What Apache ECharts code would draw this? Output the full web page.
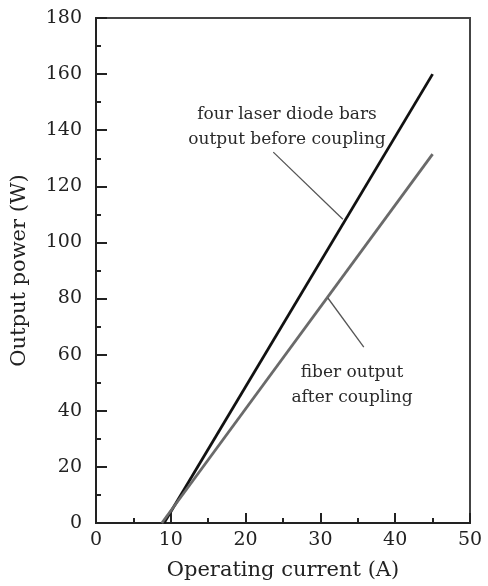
<!DOCTYPE html>
<html>
<head>
<meta charset="utf-8">
<script src="https://cdn.jsdelivr.net/npm/echarts@6/dist/echarts.min.js"></script>
<style>
  html, body { margin: 0; padding: 0; background: #fff; }
  #chart { width: 488px; height: 586px; }
</style>
</head>
<body>
<div id="chart"></div>
<script>
// four laser diode bars, output before coupling
const currentBefore = [9.1, 45];
const powerBefore = [0, 160];
// fiber output after coupling
const currentAfter = [8.8, 45];
const powerAfter = [0, 131.5];

// leader lines from the labels to the curves (current, power)
const leaderBefore = [[23.7, 132.2], [33.0, 108.3]];
const leaderAfter = [[35.8, 62.7], [31.0, 80.2]];

const labelBefore = ['four laser diode bars', 'output before coupling'];
const labelAfter = ['fiber output', 'after coupling'];

const FONT = '"DejaVu Serif", "Liberation Serif", serif';

const chart = echarts.init(document.getElementById('chart'));

function pairs(xs, ys) {
    return xs.map((x, i) => [x, ys[i]]);
}

const options = {
    animation: false,
    grid: {
        left: 96,
        right: 18,
        top: 18,
        bottom: 63,
        show: true,
        borderColor: '#444',
        borderWidth: 2,
    },
    xAxis: {
        type: 'value',
        min: 0,
        max: 50,
        interval: 10,
        name: 'Operating current (A)',
        nameLocation: 'middle',
        nameGap: 37,
        nameTextStyle: { fontFamily: FONT, fontSize: 21, color: '#222' },
        axisLine: { lineStyle: { color: '#222', width: 2 } },
        axisTick: { inside: true, length: 10, lineStyle: { color: '#222', width: 2 } },
        minorTick: { show: true, splitNumber: 2, length: 5, lineStyle: { color: '#222', width: 2 } },
        axisLabel: { fontFamily: FONT, fontSize: 19, color: '#222', margin: 8 },
        splitLine: { show: false },
    },
    yAxis: {
        type: 'value',
        min: 0,
        max: 180,
        interval: 20,
        name: 'Output power (W)',
        nameLocation: 'middle',
        nameGap: 66,
        nameTextStyle: { fontFamily: FONT, fontSize: 21, color: '#222' },
        axisLine: { lineStyle: { color: '#222', width: 2 } },
        axisTick: { inside: true, length: 11, lineStyle: { color: '#222', width: 2 } },
        minorTick: { show: true, splitNumber: 2, length: 5, lineStyle: { color: '#222', width: 2 } },
        axisLabel: { fontFamily: FONT, fontSize: 19, color: '#222', margin: 14 },
        splitLine: { show: false },
    },
    series: [
        {
            name: 'before coupling',
            type: 'line',
            data: pairs(currentBefore, powerBefore),
            showSymbol: false,
            lineStyle: { color: '#111', width: 2.8 },
            markLine: {
                silent: true,
                symbol: 'none',
                label: { show: false },
                lineStyle: { color: '#555', width: 1.3, type: 'solid' },
                data: [[{ coord: leaderBefore[0] }, { coord: leaderBefore[1] }]],
            },
        },
        {
            name: 'after coupling',
            type: 'line',
            data: pairs(currentAfter, powerAfter),
            showSymbol: false,
            lineStyle: { color: '#6a6a6a', width: 2.8 },
            markLine: {
                silent: true,
                symbol: 'none',
                label: { show: false },
                lineStyle: { color: '#555', width: 1.3, type: 'solid' },
                data: [[{ coord: leaderAfter[0] }, { coord: leaderAfter[1] }]],
            },
        },
    ],
    graphic: [
        {
            type: 'text',
            x: 287, y: 127,
            style: {
                text: labelBefore.join('\n'),
                font: '17px ' + FONT,
                fill: '#2a2a2a',
                align: 'center',
                verticalAlign: 'middle',
                lineHeight: 25,
            },
        },
        {
            type: 'text',
            x: 352, y: 385,
            style: {
                text: labelAfter.join('\n'),
                font: '17px ' + FONT,
                fill: '#2a2a2a',
                align: 'center',
                verticalAlign: 'middle',
                lineHeight: 25,
            },
        },
    ],
};

chart.setOption(options);
</script>
</body>
</html>
